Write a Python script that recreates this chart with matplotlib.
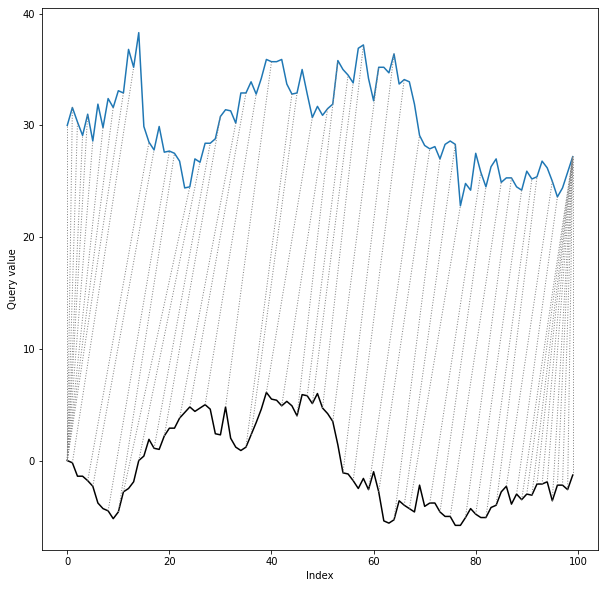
import numpy as np
import matplotlib
matplotlib.use("Agg")
import matplotlib.pyplot as plt
from matplotlib import collections as mc

# query series (black)
query = [0.0, -0.2, -1.4, -1.4, -1.8, -2.3, -3.8, -4.3, -4.5, -5.2,
         -4.6, -2.8, -2.5, -1.9, 0.0, 0.4, 1.9, 1.1, 1.0, 2.2,
         2.9, 2.9, 3.8, 4.3, 4.8, 4.4, 4.7, 5.0, 4.6, 2.4,
         2.3, 4.8, 2.0, 1.2, 0.9, 1.2, 2.3, 3.4, 4.6, 6.1,
         5.5, 5.4, 4.9, 5.3, 4.9, 4.0, 5.9, 5.8, 5.1, 6.0,
         4.7, 4.2, 3.5, 1.4, -1.1, -1.2, -1.8, -2.5, -1.6, -2.6,
         -1.0, -2.8, -5.4, -5.6, -5.3, -3.6, -4.0, -4.3, -4.6, -2.2,
         -4.1, -3.8, -3.8, -4.6, -5.0, -5.0, -5.8, -5.8, -5.1, -4.3,
         -4.8, -5.1, -5.1, -4.2, -4.0, -2.8, -2.3, -3.9, -3.0, -3.5,
         -3.0, -3.1, -2.1, -2.1, -1.9, -3.6, -2.2, -2.2, -2.6, -1.3]

# reference series (blue)
reference = [30.0, 31.6, 30.3, 29.1, 31.0, 28.6, 31.9, 29.8, 32.4, 31.6,
             33.1, 32.9, 36.8, 35.2, 38.3, 29.9, 28.5, 27.8, 29.9, 27.6,
             27.7, 27.5, 26.8, 24.4, 24.5, 27.0, 26.7, 28.4, 28.4, 28.8,
             30.8, 31.4, 31.3, 30.2, 32.9, 32.9, 33.9, 32.8, 34.2, 35.9,
             35.7, 35.7, 35.9, 33.7, 32.8, 32.9, 35.0, 32.8, 30.7, 31.7,
             30.9, 31.5, 31.9, 35.8, 35.0, 34.5, 33.8, 36.9, 37.2, 34.2,
             32.2, 35.2, 35.2, 34.7, 36.4, 33.7, 34.1, 33.9, 31.9, 29.1,
             28.2, 27.9, 28.1, 27.0, 28.3, 28.6, 28.3, 22.8, 24.8, 24.2,
             27.5, 25.8, 24.5, 26.3, 27.0, 24.9, 25.3, 25.3, 24.5, 24.2,
             25.9, 25.2, 25.4, 26.8, 26.2, 25.0, 23.6, 24.4, 25.8, 27.2]

# warping path matches shown as dotted lines (query index, reference index)
match_q = [0, 0, 0, 0, 0, 0, 0, 0, 0, 1, 4, 5, 8, 10, 11, 14, 17, 19, 22,
           24, 27, 31, 35, 36, 39, 42, 45, 47, 48, 50, 52, 54, 56, 59, 61,
           64, 66, 67, 71, 73, 75, 78, 80, 82, 84, 86, 88,
           89, 90, 91, 92, 93, 94, 95, 96, 97, 98, 99]
match_r = [0, 1, 2, 3, 4, 5, 7, 9, 11, 13, 16, 17, 20, 21, 24, 26, 28, 30, 33,
           35, 37, 40, 44, 45, 48, 51, 53, 55, 56, 58, 61, 64, 66, 69, 71,
           73, 76, 77, 81, 82, 85, 87, 89, 91, 92, 95, 96,
           99, 99, 99, 99, 99, 99, 99, 99, 99, 99, 99]

fig = plt.figure(figsize=(606 / 72, 589 / 72), dpi=72)
ax = fig.add_axes([42 / 606, 39 / 589, 556 / 606, 542 / 589])

times = np.arange(len(query))
ax.plot(times, query, color='k')
ax.plot(times, reference)

segs = [[(q, query[q]), (r, reference[r])] for q, r in zip(match_q, match_r)]
lc = mc.LineCollection(segs, linewidths=1, linestyles=":", colors="gray")
ax.add_collection(lc)

ax.set_xlabel("Index")
ax.set_ylabel("Query value")

fig.savefig("out.png", dpi=72)
